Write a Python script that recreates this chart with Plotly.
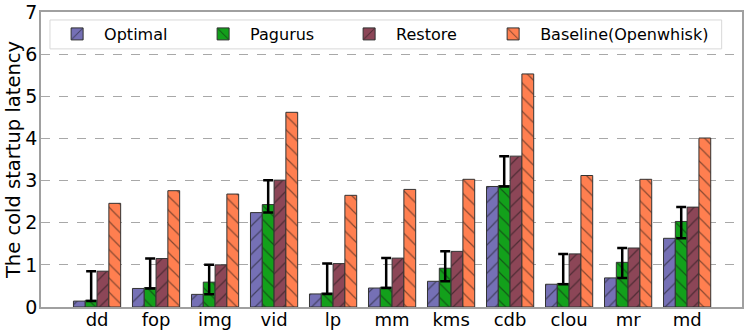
import plotly.graph_objects as go

categories = ["dd", "fop", "img", "vid", "lp", "mm", "kms", "cdb", "clou", "mr", "md"]
optimal = [0.14, 0.44, 0.30, 2.24, 0.31, 0.45, 0.61, 2.86, 0.54, 0.69, 1.63]
pagurus = [0.16, 0.46, 0.59, 2.43, 0.33, 0.47, 0.92, 2.88, 0.56, 1.06, 2.03]
restore = [0.85, 1.15, 1.00, 3.01, 1.03, 1.16, 1.32, 3.58, 1.26, 1.40, 2.37]
baseline = [2.46, 2.76, 2.68, 4.62, 2.65, 2.79, 3.03, 5.53, 3.12, 3.03, 4.01]

# Pagurus error bars run from the Optimal value up to the Restore value
err_plus = [r - p for r, p in zip(restore, pagurus)]
err_minus = [p - o for p, o in zip(pagurus, optimal)]

FONT = "DejaVu Sans"
series = [
    ("Optimal", optimal, "#7570b5", "/", "legend"),
    ("Pagurus", pagurus, "#13a01b", "\\", "legend"),
    ("Restore", restore, "#8c4657", "/", "legend"),
    ("Baseline(Openwhisk)", baseline, "#ff7f50", "\\", "legend2"),
]

fig = go.Figure()
for name, values, color, hatch, leg in series:
    kwargs = {}
    if name == "Pagurus":
        kwargs["error_y"] = dict(
            type="data", symmetric=False, array=err_plus, arrayminus=err_minus,
            color="black", thickness=2.5, width=5,
        )
    fig.add_trace(
        go.Bar(
            x=categories,
            y=values,
            name=name,
            legend=leg,
            marker=dict(
                color=color,
                line=dict(color="#333333", width=1),
                pattern=dict(shape=hatch, fgcolor="#111111", size=10,
                             solidity=0.12, fillmode="overlay"),
            ),
            **kwargs,
        )
    )

# legend frame (the entries are split over two legends so the long last name is not clipped)
fig.add_shape(
    type="rect", xref="paper", yref="paper",
    x0=0.0128, x1=0.971, y0=0.875, y1=0.973,
    line=dict(color="#d8d8d8", width=1), fillcolor="white", layer="above",
)

legend_common = dict(
    orientation="h", yanchor="top", xanchor="left", y=0.983,
    bgcolor="rgba(0,0,0,0)", borderwidth=0,
    font=dict(size=16, family=FONT), itemwidth=44, traceorder="normal",
)

fig.update_layout(
    width=747,
    height=335,
    barmode="group",
    bargap=0.2,
    bargroupgap=0,
    plot_bgcolor="white",
    paper_bgcolor="white",
    font=dict(family=FONT, color="black"),
    margin=dict(l=41, r=5, t=12, b=28, autoexpand=False),
    legend=dict(x=0.013, entrywidth=87, **legend_common),
    legend2=dict(x=0.635, **legend_common),
    xaxis=dict(
        range=[-0.95, 10.93],
        tickfont=dict(size=18, family=FONT),
        ticklabelstandoff=-4,
        showline=True, mirror=True, linecolor="#a0a0a0", linewidth=1.5,
        ticks="", showgrid=False,
    ),
    yaxis=dict(
        range=[0, 7],
        dtick=1,
        tickfont=dict(size=19, family=FONT),
        ticklabelstandoff=-2,
        title=dict(text="The cold startup latency", font=dict(size=19.5, family=FONT), standoff=0),
        showline=True, mirror=True, linecolor="#a0a0a0", linewidth=1.5,
        showgrid=True, gridcolor="#a8a8a8", griddash="dash", gridwidth=1,
        zeroline=False, ticks="",
    ),
)

fig.write_html(
    "out.html",
    config={"displayModeBar": False},
    post_script="document.body.style.margin = '0px';",
)
